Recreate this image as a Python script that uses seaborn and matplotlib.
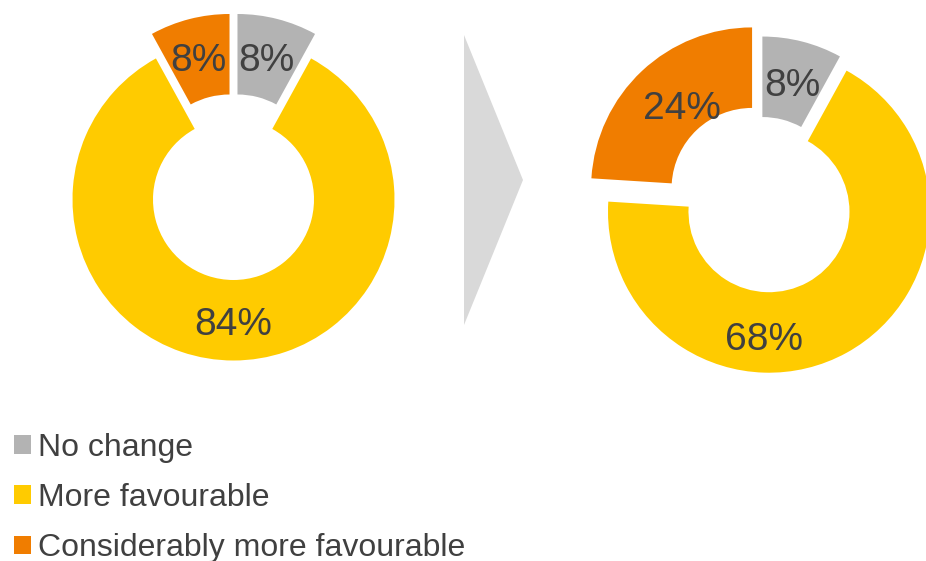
import matplotlib
matplotlib.use("Agg")
import matplotlib.pyplot as plt
from matplotlib.patches import Patch, Polygon
import seaborn as sns

# Survey answers: share of respondents per category, before and after
categories = ["No change", "More favourable", "Considerably more favourable"]
before_pct = [8, 84, 8]
after_pct = [8, 68, 24]

# Per-wedge explode offsets (pixels)
before_explode = [16, 9, 16]
after_explode = [1.5, 14.5, 14.5]

colors = ["#B3B3B3", "#FFCB00", "#F07D00"]
text_color = "#404040"

sns.set_theme(style="white")
plt.rcParams["font.family"] = ["Liberation Sans", "DejaVu Sans"]

W, H = 926, 561
fig = plt.figure(figsize=(W / 100, H / 100), dpi=100)
ax = fig.add_axes([0, 0, 1, 1])

R = 161
ring = dict(width=R * 0.5, edgecolor="none", linewidth=0)


def py(y):
    """Convert a top-down pixel row into the y-up axis coordinate."""
    return H - y


# Left doughnut
ax.pie(before_pct, colors=colors, startangle=90, counterclock=False,
       radius=R, center=(233.5, py(190.5)), explode=before_explode,
       wedgeprops=ring)
# Right doughnut
ax.pie(after_pct, colors=colors, startangle=90, counterclock=False,
       radius=R, center=(762, py(199)), explode=after_explode,
       wedgeprops=ring)

# Data labels (positions of the label centres)
before_label_xy = [(266, 57), (233, 321), (198, 57)]
after_label_xy = [(792, 82), (764, 336), (682, 105)]
label_size = 28
cap_half = 14
for vals, pos in ((before_pct, before_label_xy), (after_pct, after_label_xy)):
    for v, (x, y) in zip(vals, pos):
        ax.text(x, py(y + cap_half), f"{v}%", ha="center", va="baseline",
                fontsize=label_size, color=text_color)

# Arrow between the two doughnuts
ax.add_patch(Polygon([(464, py(35)), (523, py(180)), (464, py(325))],
                     closed=True, facecolor="#D9D9D9", edgecolor="none"))

ax.set_xlim(0, W)
ax.set_ylim(0, H)
ax.set_aspect("equal", adjustable="box")
ax.axis("off")

handles = [Patch(facecolor=c, edgecolor="none") for c in colors]
leg = ax.legend(handles, categories, loc="upper left",
                bbox_to_anchor=(14 / W, 1 - 433 / H), frameon=False,
                fontsize=23, handlelength=0.53, handleheight=0.53,
                handletextpad=0.22, labelspacing=0.63, borderaxespad=0,
                borderpad=0)
for t in leg.get_texts():
    t.set_color(text_color)

fig.savefig("out.png", dpi=100)
